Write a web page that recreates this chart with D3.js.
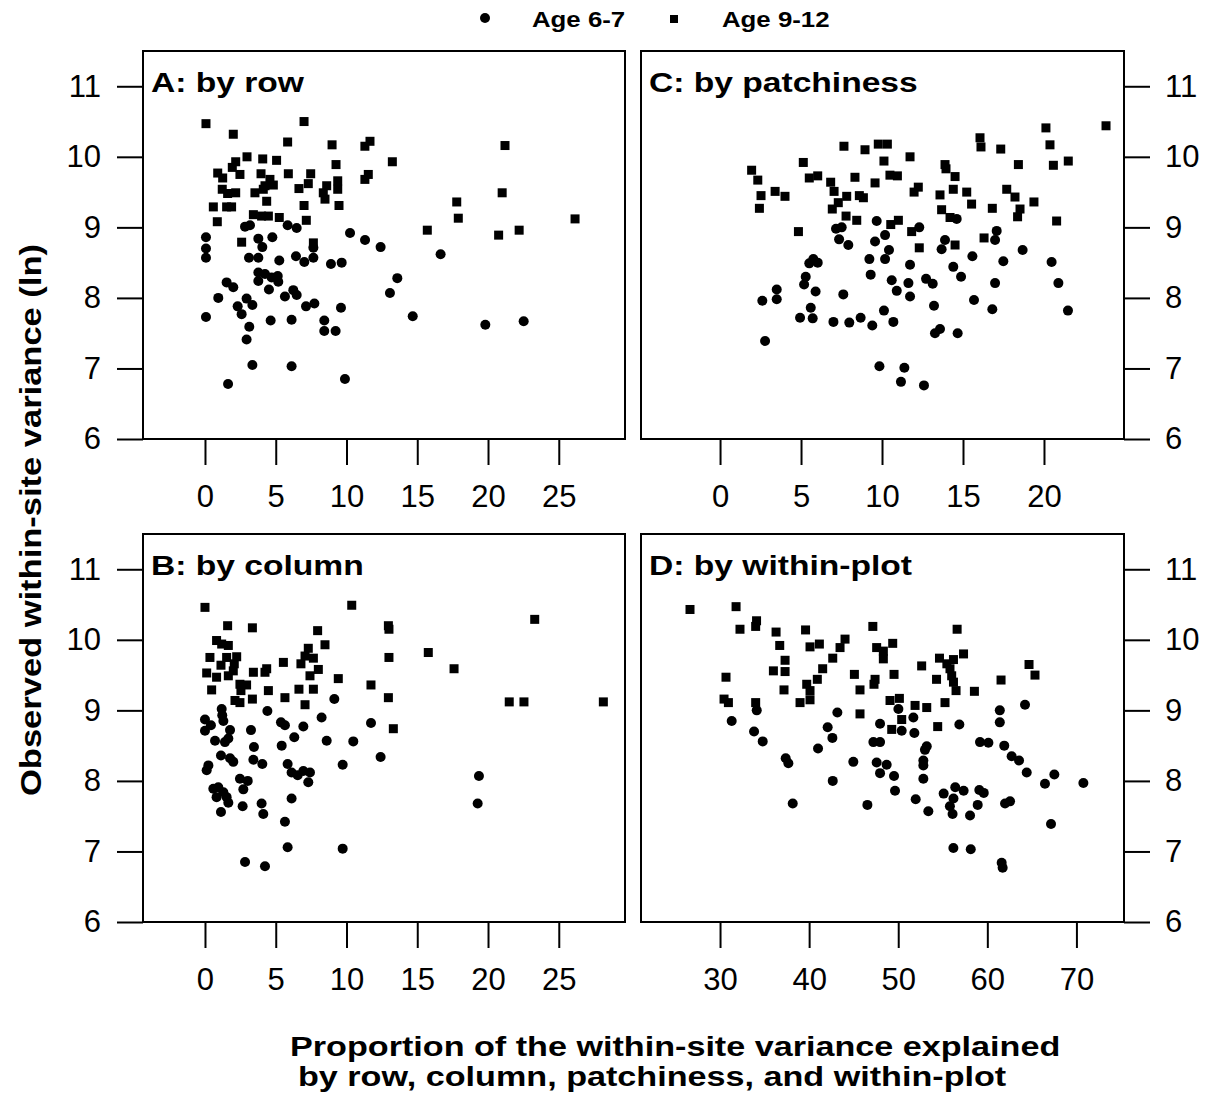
<!DOCTYPE html>
<html lang="en">
<head>
    <meta charset="UTF-8">
    <title>Within-site variance by component</title>
    <script src="https://cdnjs.cloudflare.com/ajax/libs/d3/7.8.5/d3.min.js"></script>
    <style>
        body { margin: 0; background: #fff; }
        text { font-family: "Liberation Sans", Arial, Helvetica, sans-serif; }
    </style>
</head>
<body>
<svg id="chart" width="1215" height="1095"></svg>
<script>
    // values: [proportion explained, ln variance]
    const rowAge67 = [[0.07,8.86],[0.07,8.70],[0.07,8.57],[2.83,9.01],[3.18,9.03],[5.84,9.03],[6.48,8.99],[10.25,8.92],[11.31,8.82],[12.41,8.72],[3.77,8.84],[4.05,8.72],[4.76,8.86],[7.66,8.71],[3.11,8.57],[3.77,8.57],[5.25,8.53],[6.43,8.59],[7.02,8.51],[7.66,8.57],[8.9,8.48],[9.66,8.5],[3.77,8.36],[3.77,8.24],[4.24,8.34],[4.71,8.29],[5.14,8.31],[5.18,8.23],[4.52,8.12],[1.53,8.22],[2.0,8.15],[0.94,8.0],[2.94,7.99],[3.35,7.90],[2.31,7.88],[2.59,7.77],[5.65,8.02],[6.24,8.11],[6.48,8.04],[7.14,7.88],[7.73,7.92],[9.61,7.86],[0.07,7.73],[3.13,7.59],[4.64,7.68],[6.12,7.69],[8.43,7.68],[8.43,7.53],[9.23,7.53],[2.94,7.41],[3.35,7.05],[6.12,7.03],[1.63,6.78],[9.89,6.85],[16.65,8.62],[13.59,8.28],[13.07,8.07],[14.68,7.74],[19.81,7.62],[22.52,7.67]];
    const rowAge912 = [[0.07,10.47],[2.0,10.32],[7.0,10.50],[5.84,10.21],[8.98,10.17],[11.3,10.15],[11.66,10.22],[2.97,10.0],[4.08,9.97],[5.06,9.95],[2.17,9.93],[1.93,9.85],[9.26,9.89],[0.9,9.77],[1.25,9.70],[2.47,9.75],[3.96,9.76],[5.89,9.76],[7.47,9.76],[4.59,9.68],[4.83,9.6],[4.24,9.59],[9.38,9.66],[9.38,9.54],[11.3,9.68],[11.54,9.75],[7.3,9.62],[6.64,9.55],[8.6,9.59],[8.36,9.49],[8.48,9.40],[1.22,9.54],[1.6,9.48],[2.17,9.49],[3.53,9.49],[4.12,9.54],[4.36,9.37],[0.59,9.29],[1.53,9.29],[1.88,9.29],[7.0,9.31],[9.47,9.31],[0.87,9.08],[3.42,9.18],[4.0,9.16],[4.48,9.16],[5.25,9.14],[7.16,9.10],[2.59,8.79],[7.66,8.78],[13.24,9.93],[21.2,10.16],[21.0,9.49],[17.79,9.36],[17.9,9.13],[15.71,8.96],[20.75,8.89],[22.2,8.96],[26.15,9.12]];

    const colAge67 = [[9.14,9.16],[4.41,8.99],[1.18,9.02],[1.22,8.93],[1.3,8.85],[0.0,8.87],[0.0,8.71],[0.42,8.79],[1.77,8.72],[0.71,8.57],[1.41,8.55],[1.65,8.60],[3.25,8.72],[5.37,8.83],[5.65,8.79],[6.95,8.77],[8.24,8.90],[6.31,8.62],[5.42,8.50],[8.6,8.57],[10.48,8.56],[11.73,8.82],[3.46,8.48],[1.13,8.36],[1.77,8.32],[2.0,8.27],[3.42,8.30],[4.05,8.24],[0.24,8.22],[0.12,8.15],[5.84,8.24],[6.12,8.12],[6.55,8.08],[6.95,8.14],[7.3,7.98],[7.42,8.12],[9.73,8.23],[2.47,8.03],[3.02,8.0],[2.71,7.88],[0.59,7.89],[0.94,7.91],[1.30,7.84],[1.53,7.77],[0.82,7.77],[1.65,7.69],[1.13,7.56],[2.66,7.64],[4.0,7.68],[4.12,7.53],[6.12,7.75],[5.65,7.42],[5.84,7.06],[9.73,7.04],[2.83,6.85],[4.24,6.79],[12.41,8.34],[19.36,8.07],[19.27,7.68]];
    const colAge912 = [[0.0,10.46],[10.37,10.49],[1.6,10.2],[3.35,10.17],[7.96,10.13],[8.48,9.93],[0.82,9.99],[1.18,9.94],[1.65,9.92],[0.35,9.75],[1.53,9.75],[2.24,9.76],[7.3,9.88],[7.07,9.77],[7.66,9.74],[1.13,9.64],[2.07,9.66],[2.0,9.56],[5.54,9.68],[6.78,9.66],[0.12,9.53],[0.82,9.47],[1.65,9.49],[3.42,9.54],[4.24,9.54],[4.36,9.59],[7.42,9.49],[8.01,9.58],[9.42,9.45],[0.47,9.29],[2.47,9.37],[2.94,9.36],[2.54,9.28],[4.48,9.28],[6.64,9.30],[7.66,9.30],[11.73,9.36],[5.65,9.18],[3.35,9.16],[2.12,9.14],[2.47,9.11],[7.07,9.08],[12.96,10.2],[13.0,10.15],[23.3,10.29],[15.78,9.82],[13.0,9.75],[17.6,9.59],[12.96,9.18],[21.5,9.12],[22.54,9.12],[28.15,9.12],[13.31,8.74]];

    const patchAge67 = [[7.16,8.98],[7.51,9.0],[7.35,8.83],[7.92,8.75],[9.67,9.09],[9.57,8.80],[9.22,8.55],[9.30,8.33],[5.51,8.49],[5.76,8.55],[6.03,8.50],[5.29,8.30],[5.19,8.19],[5.9,8.09],[3.5,8.12],[3.5,7.98],[2.61,7.96],[7.61,8.05],[5.6,7.86],[4.94,7.72],[5.72,7.71],[7.0,7.66],[7.98,7.65],[8.68,7.72],[9.4,7.61],[2.78,7.39],[9.84,7.03],[12.3,9.0],[10.19,8.89],[10.43,8.68],[10.19,8.55],[11.73,8.47],[13.89,8.82],[13.68,8.69],[14.61,9.12],[17.08,8.95],[16.98,8.82],[15.58,8.59],[17.49,8.52],[18.68,8.68],[20.47,8.51],[14.4,8.44],[14.88,8.30],[10.6,8.25],[10.91,8.10],[11.63,8.21],[11.73,8.02],[12.72,8.27],[13.13,8.20],[16.98,8.21],[20.89,8.21],[13.21,7.89],[15.68,7.97],[16.81,7.84],[21.48,7.82],[10.12,7.82],[10.70,7.66],[13.27,7.50],[13.58,7.56],[14.67,7.50],[11.38,7.01],[11.17,6.81],[12.59,6.76]];
    const patchAge912 = [[1.95,9.81],[2.33,9.67],[2.53,9.45],[2.43,9.27],[3.40,9.51],[4.01,9.44],[4.84,8.94],[5.14,9.92],[5.51,9.70],[6.03,9.73],[6.83,9.64],[7.04,9.51],[7.65,10.15],[8.95,10.10],[8.33,9.71],[7.82,9.44],[7.30,9.35],[6.93,9.26],[8.6,9.45],[8.85,9.42],[7.78,9.16],[8.44,9.10],[9.57,9.63],[9.77,10.18],[10.33,10.18],[10.12,9.94],[11.73,10.0],[16.05,10.27],[16.11,10.14],[17.33,10.11],[20.12,10.41],[20.37,10.17],[23.83,10.44],[20.58,9.88],[21.5,9.94],[18.42,9.89],[13.89,9.89],[13.95,9.83],[14.51,9.72],[10.49,9.74],[10.95,9.73],[12.24,9.57],[11.98,9.50],[13.58,9.46],[14.4,9.54],[15.23,9.50],[15.53,9.33],[17.70,9.54],[18.21,9.43],[19.38,9.36],[13.68,9.25],[14.2,9.14],[16.81,9.27],[18.52,9.26],[18.37,9.15],[20.78,9.09],[11.01,9.10],[10.54,9.04],[11.83,8.94],[12.3,8.71],[16.30,8.85],[14.51,8.75]];

    const plotAge67 = [[34.12,9.0],[31.31,8.85],[33.82,8.70],[34.79,8.56],[43.17,8.97],[42.08,8.76],[42.61,8.61],[41.0,8.46],[37.37,8.32],[37.67,8.25],[44.96,8.27],[42.65,8.0],[38.16,7.68],[46.54,7.66],[50.02,9.02],[51.7,8.90],[47.96,8.81],[50.39,8.71],[51.81,8.68],[56.86,8.80],[61.4,9.0],[61.4,8.83],[64.23,9.08],[47.21,8.55],[47.96,8.55],[53.2,8.49],[53.0,8.44],[59.18,8.55],[60.12,8.54],[61.9,8.50],[62.73,8.35],[63.56,8.29],[64.42,8.12],[47.58,8.26],[48.7,8.23],[47.96,8.11],[49.53,8.07],[52.82,8.29],[52.82,8.22],[52.82,8.03],[49.64,7.86],[55.1,7.82],[56.4,7.91],[57.34,7.86],[59.1,7.87],[59.6,7.83],[51.96,7.74],[53.38,7.57],[56.2,7.75],[55.8,7.64],[56.1,7.53],[58.06,7.51],[58.92,7.66],[61.99,7.68],[62.55,7.71],[66.47,7.96],[67.52,8.09],[70.78,7.97],[67.15,7.39],[56.19,7.05],[58.14,7.03],[61.61,6.84],[61.72,6.77]];
    const plotAge912 = [[26.63,10.43],[31.8,10.47],[32.24,10.15],[34.1,10.27],[34.0,10.19],[36.29,10.11],[39.6,10.14],[36.7,9.92],[40.1,9.90],[41.15,9.94],[44.03,10.01],[43.47,9.89],[42.65,9.74],[37.3,9.71],[35.99,9.56],[37.3,9.55],[30.67,9.47],[41.52,9.59],[40.92,9.44],[39.73,9.37],[40.1,9.28],[40.1,9.15],[37.18,9.29],[38.98,9.11],[45.08,9.51],[45.71,9.29],[30.45,9.16],[30.94,9.11],[34.0,9.11],[45.71,8.95],[47.15,10.19],[56.61,10.15],[47.58,9.89],[48.33,9.84],[49.38,9.95],[48.33,9.73],[47.4,9.44],[47.28,9.37],[49.53,9.51],[52.63,9.63],[54.63,9.74],[55.46,9.66],[56.2,9.72],[57.33,9.80],[55.81,9.59],[56.0,9.49],[56.2,9.40],[56.49,9.28],[54.3,9.44],[58.55,9.27],[61.54,9.43],[64.68,9.65],[65.35,9.50],[50.13,9.17],[49.08,9.14],[55.25,9.11],[51.89,9.07],[53.2,9.04],[50.39,8.87],[49.27,8.73],[54.43,8.77]];

    const yTicks = [6, 7, 8, 9, 10, 11];
    const xTicksSmall = [0, 5, 10, 15, 20, 25];
    const xTicksPatch = [0, 5, 10, 15, 20];
    const xTicksPlot = [30, 40, 50, 60, 70];
    const legendLabels = ["Age 6-7", "Age 9-12"];

    const svg = d3.select("#chart");
    svg.append("rect").attr("width", 1215).attr("height", 1095).attr("fill", "#fff");

    const panels = [
        {title: "A: by row", young: rowAge67, old: rowAge912, ticks: xTicksSmall, xdom: [-4.38, 29.68], x0: 143, x1: 625, y0: 51, y1: 439, side: "left"},
        {title: "C: by patchiness", young: patchAge67, old: patchAge912, ticks: xTicksPatch, xdom: [-4.88, 24.94], x0: 641, x1: 1124, y0: 51, y1: 439, side: "right"},
        {title: "B: by column", young: colAge67, old: colAge912, ticks: xTicksSmall, xdom: [-4.38, 29.68], x0: 143, x1: 625, y0: 534, y1: 922, side: "left"},
        {title: "D: by within-plot", young: plotAge67, old: plotAge912, ticks: xTicksPlot, xdom: [21.13, 75.34], x0: 641, x1: 1124, y0: 534, y1: 922, side: "right"}
    ];

    const fmt = d3.format("d");

    // bold text in the figure is noticeably wider than Arial, so stretch it
    function wideText(parent, str, x, y, size, sx, rotate) {
        return parent.append("text")
            .attr("transform", `translate(${x},${y})` + (rotate ? ` rotate(${rotate})` : "") + ` scale(${sx},1)`)
            .attr("font-size", size)
            .attr("font-weight", "bold")
            .text(str);
    }

    function styleAxis(g) {
        g.select(".domain").remove();
        g.attr("font-size", 31).attr("font-family", "Liberation Sans, Arial, sans-serif");
        g.selectAll(".tick line").attr("stroke", "#000").attr("stroke-width", 2);
        g.selectAll(".tick text").attr("fill", "#000");
    }

    panels.forEach(p => {
        const x = d3.scaleLinear().domain(p.xdom).range([p.x0, p.x1]);
        const y = d3.scaleLinear().domain([6, 11.5]).range([p.y1, p.y0]);
        const g = svg.append("g");

        g.append("g")
            .attr("transform", `translate(0,${p.y1})`)
            .call(d3.axisBottom(x).tickValues(p.ticks).tickFormat(fmt).tickSize(26).tickPadding(20))
            .call(styleAxis);

        const yAxis = p.side === "left" ? d3.axisLeft(y).tickPadding(16) : d3.axisRight(y).tickPadding(15);
        g.append("g")
            .attr("transform", `translate(${p.side === "left" ? p.x0 : p.x1},0)`)
            .call(yAxis.tickValues(yTicks).tickFormat(fmt).tickSize(26))
            .call(styleAxis);

        g.append("rect")
            .attr("x", p.x0).attr("y", p.y0)
            .attr("width", p.x1 - p.x0).attr("height", p.y1 - p.y0)
            .attr("fill", "none").attr("stroke", "#000").attr("stroke-width", 2);

        g.selectAll("circle.young")
            .data(p.young)
            .enter()
            .append("circle")
            .attr("class", "young")
            .attr("cx", d => x(d[0]))
            .attr("cy", d => y(d[1]))
            .attr("r", 5)
            .attr("fill", "#000");

        g.selectAll("rect.old")
            .data(p.old)
            .enter()
            .append("rect")
            .attr("class", "old")
            .attr("x", d => x(d[0]) - 4.5)
            .attr("y", d => y(d[1]) - 4.5)
            .attr("width", 9)
            .attr("height", 9)
            .attr("fill", "#000");

        wideText(g, p.title, p.x0 + 8, p.y0 + 41, 28, 1.2);
    });

    // legend
    svg.append("circle").attr("cx", 485).attr("cy", 18).attr("r", 5).attr("fill", "#000");
    wideText(svg, legendLabels[0], 532, 27, 21.5, 1.2);
    svg.append("rect").attr("x", 670).attr("y", 15).attr("width", 8).attr("height", 8).attr("fill", "#000");
    wideText(svg, legendLabels[1], 722, 27, 21.5, 1.2);

    // axis titles
    wideText(svg, "Observed within-site variance (ln)", 41, 520, 30, 1.15, -90).attr("text-anchor", "middle");
    wideText(svg, "Proportion of the within-site variance explained", 290, 1056, 28, 1.22);
    wideText(svg, "by row, column, patchiness, and within-plot", 298, 1086, 28, 1.22);
</script>
</body>
</html>
